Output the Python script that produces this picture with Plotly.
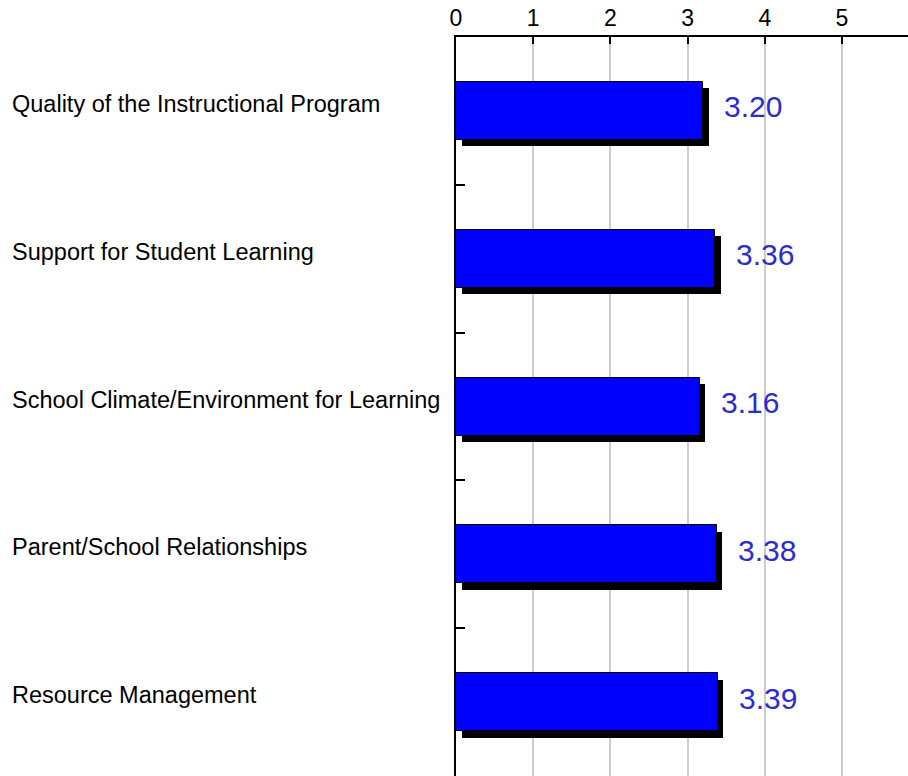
import plotly.graph_objects as go

categories = [
    "Quality of the Instructional Program",
    "Support for Student Learning",
    "School Climate/Environment for Learning",
    "Parent/School Relationships",
    "Resource Management",
]
values = [3.20, 3.36, 3.16, 3.38, 3.39]
value_labels = ["3.20", "3.36", "3.16", "3.38", "3.39"]
x_ticks = [0, 1, 2, 3, 4, 5]

W, H = 908, 776
L, T = 456, 37
plot_w = W - L
plot_h = H - T
px_per_unit = 77.2
x_max = plot_w / px_per_unit
n = len(categories)
cat_px = plot_h / n

dx = 5.5 / px_per_unit
dy = 6.5 / cat_px
bar_w = 58 / cat_px

pos = list(range(n))
FONT = "Liberation Sans, Arial, sans-serif"

fig = go.Figure()
# shadow
fig.add_trace(go.Bar(
    y=[p + dy for p in pos], x=values, base=[dx] * n, orientation="h",
    width=bar_w, marker=dict(color="black", line=dict(width=0)),
    hoverinfo="skip", showlegend=False,
))
# main bars
fig.add_trace(go.Bar(
    y=pos, x=values, orientation="h", width=bar_w,
    marker=dict(color="#0000ff", line=dict(color="black", width=1)),
    showlegend=False,
))

for p, cat in zip(pos, categories):
    fig.add_annotation(
        text=cat, xref="paper", yref="y", x=-(L - 10) / plot_w, y=p,
        xanchor="left", yanchor="middle", yshift=7, showarrow=False,
        font=dict(family=FONT, size=23.5, color="black"),
    )
for p, v, lab in zip(pos, values, value_labels):
    fig.add_annotation(
        text=lab, xref="x", yref="y", x=v, y=p,
        xanchor="left", yanchor="middle", xshift=19, yshift=4, showarrow=False,
        font=dict(family=FONT, size=30, color="#2b2bd1"),
    )

fig.update_layout(
    width=W, height=H,
    margin=dict(l=L, r=0, t=T, b=0, pad=0),
    paper_bgcolor="white", plot_bgcolor="white",
    barmode="overlay", bargap=0,
    font=dict(family=FONT, color="black"),
    xaxis=dict(
        side="top", range=[0, x_max], tickvals=x_ticks,
        ticktext=[str(t) for t in x_ticks],
        ticks="inside", ticklen=7, tickwidth=1.5, tickcolor="black",
        showgrid=True, gridcolor="#cccccc", gridwidth=1.5,
        showline=True, linecolor="black", linewidth=1.5, zeroline=False,
        tickfont=dict(family=FONT, size=23, color="black"),
        ticklabelstandoff=0, fixedrange=True,
    ),
    yaxis=dict(
        range=[n - 0.5, -0.5], tickvals=[p + 0.5 for p in pos],
        showticklabels=False, ticks="inside", ticklen=9, tickwidth=1.5,
        tickcolor="black", showgrid=False, zeroline=False,
        showline=True, linecolor="black", linewidth=1.5, fixedrange=True,
    ),
)

fig.write_html(
    "out.html",
    config={"displayModeBar": False},
    post_script="document.body.style.margin='0';document.body.style.overflow='hidden';",
)
